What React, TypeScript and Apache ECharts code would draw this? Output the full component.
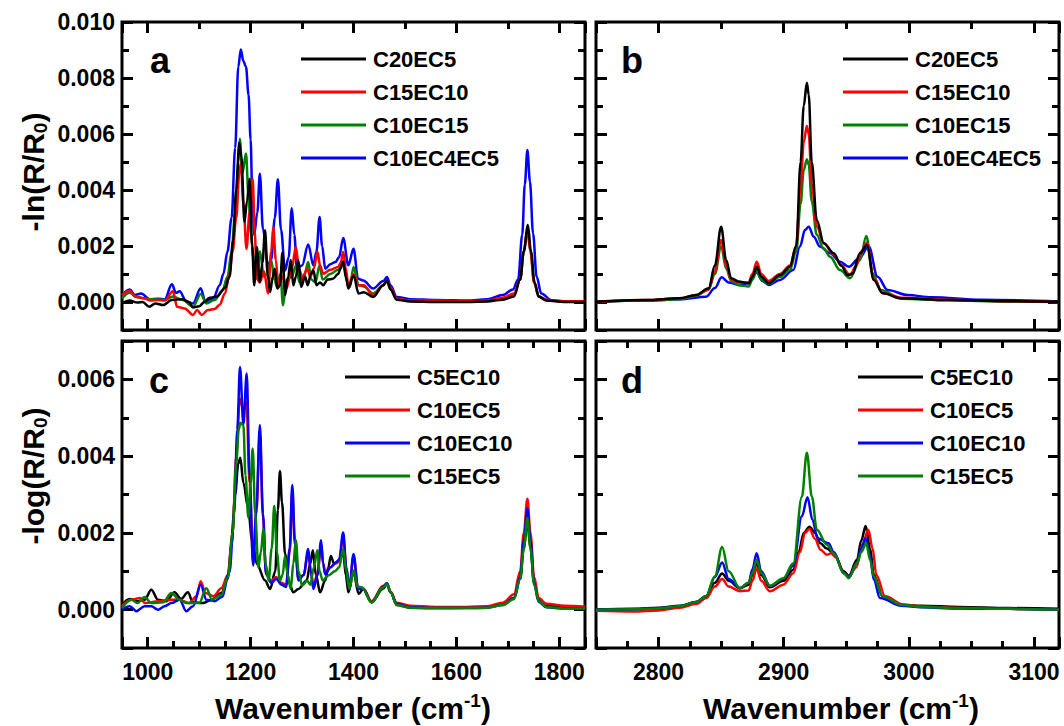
import { useEffect, useRef } from "react";
import * as echarts from "echarts";

const FONT = "'Liberation Sans', Arial, Helvetica, sans-serif";

// ---- Data (intensity values in units of 10^-3) ----
// Panel a: -ln(R/R0), 950-1850 cm-1
const aBlack = [[950,-0.05],[965,0.05],[980,-0.02],[990,0.0],[1003,-0.17],[1015,-0.05],[1030,-0.11],[1047,0.07],[1068,0.1],[1080,0.0],[1088,-0.2],[1100,-0.15],[1110,0.0],[1120,0.15],[1135,0.2],[1150,0.5],[1159,0.9],[1166,2.2],[1172,4.0],[1178,5.69],[1182,5.2],[1188,2.86],[1193,3.6],[1198,4.4],[1203,2.0],[1207,0.6],[1212,1.96],[1218,0.71],[1223,1.4],[1228,2.56],[1233,1.0],[1238,0.36],[1243,0.9],[1247,1.19],[1252,0.48],[1257,0.6],[1262,1.77],[1267,0.25],[1273,0.9],[1278,1.5],[1283,0.6],[1288,0.9],[1293,1.49],[1298,0.54],[1306,0.9],[1311,0.6],[1317,1.0],[1322,1.13],[1328,0.6],[1335,0.7],[1341,0.6],[1350,0.8],[1360,0.83],[1370,1.0],[1375,1.2],[1380,1.45],[1385,0.9],[1390,0.48],[1400,0.95],[1410,0.3],[1420,0.35],[1438,0.18],[1458,0.6],[1465,0.77],[1472,0.45],[1484,0.08],[1510,0.02],[1560,0.0],[1620,0.0],[1660,0.02],[1690,0.08],[1712,0.2],[1724,0.8],[1731,1.8],[1739,2.75],[1745,1.8],[1752,0.7],[1760,0.2],[1775,0.05],[1810,0.0],[1850,0.0]];
const aRed = [[950,0.25],[965,0.4],[975,0.2],[993,0.13],[1005,0.05],[1020,0.07],[1033,0.05],[1049,0.38],[1057,-0.17],[1072,-0.23],[1088,-0.46],[1096,-0.29],[1105,-0.46],[1117,-0.29],[1130,-0.25],[1140,-0.1],[1150,0.3],[1158,0.9],[1165,1.8],[1172,3.0],[1178,4.6],[1181,4.94],[1186,3.5],[1192,1.9],[1198,3.2],[1204,4.4],[1208,2.5],[1212,0.83],[1218,0.7],[1226,1.1],[1234,0.3],[1240,1.8],[1244,2.68],[1249,1.5],[1254,0.6],[1262,0.9],[1270,0.5],[1280,1.2],[1288,1.96],[1294,1.2],[1301,0.83],[1310,1.2],[1316,0.9],[1323,1.2],[1330,1.79],[1335,1.3],[1341,1.01],[1355,1.15],[1370,1.25],[1375,1.4],[1380,1.79],[1385,1.2],[1390,0.6],[1400,1.0],[1410,0.6],[1420,0.6],[1438,0.24],[1458,0.6],[1465,0.77],[1472,0.5],[1484,0.12],[1510,0.05],[1560,0.05],[1620,0.03],[1660,0.05],[1690,0.15],[1712,0.3],[1724,0.8],[1731,1.8],[1738,2.6],[1744,1.8],[1751,0.7],[1760,0.2],[1775,0.08],[1800,0.03],[1850,0.03]];
const aGreen = [[950,0.13],[965,0.33],[980,0.17],[1004,0.1],[1033,0.07],[1049,0.2],[1068,0.07],[1088,-0.17],[1103,0.29],[1114,-0.05],[1130,0.07],[1145,0.4],[1155,0.9],[1163,1.8],[1170,3.2],[1176,5.0],[1179,5.83],[1184,4.6],[1191,5.3],[1196,3.8],[1200,2.5],[1206,1.5],[1212,0.83],[1218,1.8],[1226,0.9],[1232,1.0],[1240,1.5],[1246,0.8],[1252,0.5],[1258,1.0],[1263,-0.12],[1270,0.8],[1280,0.9],[1288,1.3],[1295,0.7],[1305,1.0],[1312,1.43],[1318,0.8],[1326,0.7],[1334,1.3],[1340,0.8],[1355,1.0],[1370,1.15],[1380,1.4],[1388,0.7],[1393,0.55],[1400,1.25],[1410,0.6],[1420,0.55],[1438,0.3],[1458,0.6],[1465,0.75],[1472,0.45],[1484,0.1],[1510,0.04],[1560,0.03],[1620,0.02],[1660,0.04],[1690,0.12],[1712,0.28],[1724,0.8],[1731,1.8],[1738,2.6],[1744,1.8],[1751,0.7],[1760,0.2],[1775,0.06],[1810,0.02],[1850,0.02]];
const aBlue = [[950,0.25],[965,0.45],[975,0.25],[987,0.3],[1004,0.1],[1020,0.12],[1033,0.1],[1047,0.63],[1055,0.33],[1062,0.38],[1075,0.02],[1088,-0.05],[1103,0.49],[1112,0.02],[1127,0.12],[1140,0.6],[1147,1.0],[1155,1.8],[1163,3.0],[1170,5.5],[1176,8.4],[1181,9.02],[1186,8.6],[1191,8.4],[1196,7.4],[1200,5.8],[1203,4.05],[1207,2.4],[1213,3.2],[1218,4.58],[1224,2.6],[1234,1.31],[1240,1.5],[1247,3.0],[1253,4.38],[1259,2.6],[1267,1.13],[1274,1.6],[1280,3.35],[1285,2.4],[1290,1.19],[1300,1.3],[1312,2.05],[1322,1.31],[1328,1.8],[1334,3.04],[1339,2.0],[1345,1.19],[1355,1.35],[1365,1.43],[1372,1.6],[1380,2.29],[1390,1.31],[1400,1.9],[1409,0.83],[1419,0.77],[1438,0.48],[1458,0.75],[1465,0.89],[1472,0.6],[1484,0.18],[1510,0.1],[1560,0.07],[1620,0.05],[1660,0.1],[1690,0.25],[1710,0.45],[1720,0.8],[1728,2.4],[1733,4.2],[1738,5.43],[1743,4.3],[1749,2.45],[1756,0.9],[1765,0.3],[1785,0.06],[1820,0.02],[1850,0.0]];

// Panel b: -ln(R/R0), 2750-3120 cm-1
const bBlack = [[2750,0.01],[2790,0.07],[2817,0.13],[2830,0.25],[2840,0.49],[2845,1.3],[2850,2.69],[2854,1.5],[2858,0.85],[2864,0.73],[2872,0.67],[2875,0.9],[2878.5,1.26],[2882,0.9],[2888,0.67],[2897,0.96],[2905,1.26],[2910,2.0],[2913.5,5.0],[2916,7.0],[2918.5,7.83],[2920,7.4],[2922.4,5.0],[2926.4,2.93],[2932,2.1],[2940,1.74],[2946,1.3],[2951,0.96],[2955,1.02],[2961,1.74],[2966.5,2.04],[2972,0.79],[2979,0.31],[2994,0.13],[3031,0.07],[3080,0.03],[3120,0.01]];
const bRed = [[2750,0.0],[2790,0.07],[2817,0.13],[2830,0.25],[2840,0.45],[2845,1.1],[2850,2.21],[2854,1.3],[2858,0.8],[2864,0.7],[2872,0.7],[2875,1.0],[2878.5,1.44],[2882,1.0],[2888,0.75],[2897,1.0],[2905,1.3],[2910,2.0],[2913.5,4.1],[2916,5.7],[2918.5,6.29],[2920,6.0],[2922.4,4.2],[2926.4,2.7],[2932,2.1],[2940,1.7],[2946,1.3],[2953,0.96],[2958,1.3],[2962,1.8],[2966.5,2.12],[2972,0.85],[2979,0.33],[2994,0.15],[3031,0.08],[3080,0.03],[3120,0.0]];
const bGreen = [[2750,0.0],[2790,0.05],[2817,0.1],[2830,0.22],[2840,0.45],[2845,1.0],[2850,1.98],[2854,1.2],[2858,0.75],[2864,0.6],[2872,0.55],[2875,0.8],[2878.5,1.14],[2882,0.8],[2888,0.65],[2897,0.9],[2905,1.15],[2910,1.8],[2913.5,3.5],[2916,4.7],[2918.5,5.1],[2920,4.9],[2922.4,3.6],[2926.4,2.4],[2932,1.9],[2937,1.62],[2945,1.14],[2953,0.85],[2961,1.5],[2966,2.36],[2971,1.02],[2977.6,0.43],[2994,0.12],[3031,0.06],[3080,0.02],[3120,0.0]];
const bBlue = [[2750,0.0],[2790,0.05],[2817,0.1],[2838,0.19],[2845,0.5],[2850.4,0.88],[2856,0.7],[2864,0.61],[2872,0.67],[2878.5,1.05],[2883,0.75],[2888,0.61],[2897,0.79],[2907.7,1.14],[2913,1.98],[2917,2.57],[2920,2.69],[2924,2.33],[2929,1.98],[2937,1.74],[2945,1.44],[2952,1.26],[2960,1.55],[2968,1.98],[2975,0.9],[2983,0.43],[2999,0.25],[3018,0.17],[3058,0.08],[3120,0.02]];

// Panel c: -log(R/R0), 950-1850 cm-1
const cBlack = [[950,0.13],[965,0.28],[981,0.22],[994,0.26],[1007,0.52],[1020,0.26],[1036,0.22],[1052,0.45],[1065,0.28],[1078,0.45],[1088,0.19],[1107,0.17],[1124,0.26],[1143,0.43],[1155,0.8],[1163,1.7],[1170,3.0],[1176,3.8],[1180,3.96],[1186,3.3],[1195,2.66],[1203,1.8],[1212,1.19],[1228,0.76],[1238,0.54],[1248,1.0],[1253,2.6],[1257,3.61],[1261,2.8],[1267,1.45],[1275,0.7],[1283,0.45],[1293,0.54],[1309,0.76],[1316,1.2],[1321,1.55],[1327,0.9],[1335,0.45],[1345,0.76],[1351,1.1],[1356,1.4],[1362,1.2],[1369,1.25],[1375,1.35],[1380,1.5],[1385,0.9],[1390,0.45],[1400,0.97],[1410,0.41],[1419,0.54],[1435,0.19],[1458,0.55],[1465,0.67],[1472,0.45],[1484,0.12],[1510,0.05],[1560,0.04],[1620,0.05],[1660,0.07],[1690,0.15],[1712,0.3],[1724,0.8],[1731,1.6],[1738,2.3],[1744,1.6],[1751,0.7],[1760,0.25],[1775,0.1],[1810,0.06],[1850,0.05]];
const cRed = [[950,0.09],[968,0.26],[985,0.3],[995,0.17],[1020,0.22],[1046,0.26],[1062,0.26],[1080,0.17],[1095,0.35],[1103,0.74],[1112,0.43],[1128,0.35],[1143,0.56],[1156,0.9],[1165,2.0],[1172,4.0],[1179,5.5],[1186,5.2],[1192,5.4],[1198,3.3],[1205,1.2],[1211,2.5],[1218,4.6],[1224,2.4],[1230,0.95],[1240,0.75],[1250,0.85],[1260,0.7],[1269,0.65],[1276,1.5],[1281,3.1],[1286,1.7],[1293,0.8],[1303,0.9],[1312,1.5],[1317,1.0],[1322,0.6],[1330,0.95],[1337,1.7],[1341,1.2],[1345,0.95],[1355,1.1],[1365,1.2],[1372,1.25],[1380,1.9],[1386,1.1],[1392,0.55],[1400,1.4],[1409,0.55],[1419,0.55],[1435,0.22],[1458,0.62],[1465,0.69],[1472,0.47],[1484,0.18],[1510,0.1],[1560,0.07],[1620,0.07],[1660,0.09],[1690,0.18],[1712,0.4],[1724,1.0],[1731,2.0],[1738,2.89],[1744,2.0],[1751,0.85],[1760,0.3],[1775,0.15],[1810,0.1],[1850,0.08]];
const cBlue = [[950,0.0],[965,0.09],[978,-0.04],[994,0.09],[1007,0.09],[1020,0.0],[1033,0.09],[1046,0.17],[1062,0.26],[1075,-0.04],[1088,0.09],[1103,0.65],[1114,0.26],[1130,0.22],[1144,0.33],[1159,0.98],[1168,2.51],[1174,4.68],[1179.4,6.32],[1186,4.83],[1192.4,6.15],[1198,3.5],[1205,1.15],[1211,2.6],[1218,4.81],[1224,2.5],[1230,0.92],[1240,0.7],[1250,0.8],[1260,0.65],[1269,0.59],[1276,1.6],[1281,3.25],[1286,1.8],[1293,0.76],[1303,0.9],[1312,1.58],[1317,1.0],[1322,0.54],[1330,0.9],[1337,1.81],[1341,1.2],[1345,0.92],[1355,1.1],[1365,1.22],[1372,1.3],[1380,2.01],[1386,1.1],[1392,0.54],[1400,1.45],[1409,0.54],[1419,0.54],[1435,0.19],[1458,0.6],[1465,0.69],[1472,0.45],[1484,0.15],[1510,0.06],[1560,0.04],[1620,0.04],[1660,0.05],[1690,0.12],[1712,0.3],[1724,0.85],[1731,1.8],[1738,2.64],[1744,1.8],[1751,0.7],[1760,0.2],[1775,0.06],[1810,0.03],[1850,0.03]];
const cGreen = [[950,0.04],[968,0.26],[980,0.17],[994,0.33],[1007,0.17],[1030,0.19],[1046,0.43],[1062,0.26],[1075,0.17],[1100,0.17],[1114,0.56],[1125,0.26],[1143,0.39],[1156,0.85],[1165,2.0],[1172,3.8],[1177,4.7],[1180,4.87],[1186,4.8],[1190,3.5],[1195.6,2.4],[1200,3.3],[1204,4.2],[1209,2.5],[1215,1.1],[1220,1.5],[1224.8,2.1],[1229,1.2],[1235,0.76],[1241,1.6],[1246,2.7],[1251,1.5],[1257,0.76],[1262,0.9],[1267,1.4],[1272,0.9],[1278,0.54],[1283,1.2],[1288,1.81],[1293,1.0],[1300,0.63],[1310,0.75],[1316,0.65],[1323,1.1],[1329.8,1.55],[1334,1.0],[1340,0.76],[1351,0.89],[1364,1.0],[1372,1.1],[1380,1.58],[1386,1.0],[1392,0.54],[1400,1.02],[1408,0.6],[1416,0.58],[1435,0.19],[1458,0.58],[1465,0.67],[1472,0.45],[1484,0.12],[1510,0.05],[1560,0.04],[1620,0.04],[1660,0.05],[1690,0.12],[1712,0.28],[1724,0.8],[1731,1.6],[1738,2.38],[1744,1.6],[1751,0.65],[1760,0.22],[1775,0.07],[1810,0.03],[1850,0.03]];

// Panel d: -log(R/R0), 2750-3120 cm-1
const dBlack = [[2750,0.0],[2780,0.02],[2800,0.05],[2817,0.1],[2830,0.2],[2838,0.35],[2845,0.7],[2850.8,0.94],[2856,0.75],[2865,0.56],[2872,0.65],[2875,0.9],[2878.4,1.21],[2882,0.9],[2889,0.58],[2899.7,0.75],[2907.7,1.04],[2912,1.5],[2916,2.0],[2920.6,2.16],[2925,2.0],[2929.4,1.73],[2934,1.6],[2940,1.47],[2948,1.0],[2952,0.88],[2958.6,1.3],[2962,1.8],[2965.5,2.18],[2969,1.6],[2972,0.91],[2979,0.35],[2994,0.13],[3010,0.1],[3040,0.07],[3080,0.04],[3120,0.02]];
const dRed = [[2750,-0.03],[2780,-0.05],[2800,-0.02],[2817,0.05],[2830,0.15],[2838,0.3],[2845,0.6],[2850.8,0.8],[2856,0.6],[2865,0.48],[2872,0.5],[2875,0.75],[2878.4,1.08],[2882,0.75],[2889,0.48],[2899.7,0.65],[2907.7,0.95],[2913,1.5],[2917,2.0],[2920.6,2.1],[2925,1.85],[2929.4,1.56],[2934.5,1.43],[2938,1.47],[2942,1.35],[2948,0.95],[2952,0.87],[2958,1.1],[2963,1.7],[2967.6,2.08],[2971,1.6],[2974,0.91],[2981,0.35],[2996,0.13],[3010,0.08],[3040,0.04],[3080,0.02],[3120,0.0]];
const dBlue = [[2750,0.0],[2780,0.01],[2800,0.03],[2817,0.09],[2830,0.2],[2838,0.35],[2845,0.85],[2850.8,1.23],[2856,0.8],[2865,0.56],[2872,0.7],[2875,1.05],[2878.4,1.47],[2882,1.0],[2889,0.61],[2899.7,0.8],[2907.7,1.15],[2914.5,2.43],[2919,2.93],[2923,2.34],[2927,1.86],[2935.8,1.73],[2940,1.5],[2948,0.95],[2952,0.85],[2958.6,1.21],[2962,1.6],[2965.4,1.86],[2969,1.4],[2972,0.78],[2977,0.3],[2994,0.1],[3010,0.06],[3040,0.03],[3080,0.02],[3120,0.0]];
const dGreen = [[2750,0.0],[2780,0.01],[2800,0.03],[2817,0.09],[2830,0.2],[2838,0.35],[2845,0.87],[2850.8,1.63],[2856,1.0],[2865,0.56],[2872,0.7],[2875,0.95],[2878.4,1.3],[2882,0.95],[2889,0.62],[2899.7,0.82],[2907.7,1.21],[2914.5,2.94],[2918.5,4.09],[2922.5,2.94],[2926.5,2.08],[2934.5,1.69],[2940,1.47],[2948,0.95],[2952,0.82],[2958.6,1.21],[2962,1.5],[2966,1.73],[2969,1.3],[2972,0.87],[2979,0.35],[2994,0.13],[3010,0.07],[3040,0.04],[3080,0.02],[3120,0.0]];

// ---- Series names ----
const namesTop = ["C20EC5", "C15EC10", "C10EC15", "C10EC4EC5"];
const namesBottom = ["C5EC10", "C10EC5", "C10EC10", "C15EC5"];

// ---- Tick labels ----
const lowXMajor = [1000, 1200, 1400, 1600, 1800];
const highXMajor = [2800, 2900, 3000, 3100];
const topYMajor = [0, 0.002, 0.004, 0.006, 0.008, 0.01];
const botYMajor = [0, 0.002, 0.004, 0.006];

const BLACK = "#000000";
const RED = "#ff0000";
const GREEN = "#008000";
const BLUE = "#0000ff";

type Spec = { splitNumber?: number; interval?: number };
type Panel = {
  grid: { left: number; top: number; width: number; height: number };
  xMin: number; xMax: number; xLabels: number[] | null;
  yMin: number; yMax: number; yLabels: number[] | null;
  xMajorSpec: Spec; xMinorSpec: Spec; yMajorSpec: Spec; yMinorSpec: Spec;
  series: { name: string; color: string; data: number[][] }[];
};

const panels: Panel[] = [
  {
    grid: { left: 122, top: 22, width: 463, height: 308 },
    xMin: 950, xMax: 1850, xLabels: null,
    yMin: -0.001, yMax: 0.01, yLabels: topYMajor,
    xMajorSpec: { splitNumber: 5 }, xMinorSpec: { splitNumber: 9 }, yMajorSpec: { splitNumber: 5 }, yMinorSpec: { interval: 0.001 },
    series: [
      { name: namesTop[3], color: BLUE, data: aBlue },
      { name: namesTop[2], color: GREEN, data: aGreen },
      { name: namesTop[1], color: RED, data: aRed },
      { name: namesTop[0], color: BLACK, data: aBlack },
    ],
  },
  {
    grid: { left: 596, top: 22, width: 463, height: 308 },
    xMin: 2750, xMax: 3120, xLabels: null,
    yMin: -0.001, yMax: 0.01, yLabels: null,
    xMajorSpec: { splitNumber: 4 }, xMinorSpec: { interval: 50 }, yMajorSpec: { splitNumber: 5 }, yMinorSpec: { interval: 0.001 },
    series: [
      { name: namesTop[3], color: BLUE, data: bBlue },
      { name: namesTop[2], color: GREEN, data: bGreen },
      { name: namesTop[1], color: RED, data: bRed },
      { name: namesTop[0], color: BLACK, data: bBlack },
    ],
  },
  {
    grid: { left: 122, top: 341, width: 463, height: 307 },
    xMin: 950, xMax: 1850, xLabels: lowXMajor,
    yMin: -0.001, yMax: 0.007, yLabels: botYMajor,
    xMajorSpec: { splitNumber: 5 }, xMinorSpec: { interval: 50 }, yMajorSpec: { splitNumber: 4 }, yMinorSpec: { interval: 0.001 },
    series: [
      { name: namesBottom[0], color: BLACK, data: cBlack },
      { name: namesBottom[1], color: RED, data: cRed },
      { name: namesBottom[2], color: BLUE, data: cBlue },
      { name: namesBottom[3], color: GREEN, data: cGreen },
    ],
  },
  {
    grid: { left: 596, top: 341, width: 463, height: 307 },
    xMin: 2750, xMax: 3120, xLabels: highXMajor,
    yMin: -0.001, yMax: 0.007, yLabels: null,
    xMajorSpec: { splitNumber: 4 }, xMinorSpec: { interval: 25 }, yMajorSpec: { splitNumber: 4 }, yMinorSpec: { interval: 0.001 },
    series: [
      { name: namesBottom[0], color: BLACK, data: dBlack },
      { name: namesBottom[1], color: RED, data: dRed },
      { name: namesBottom[2], color: BLUE, data: dBlue },
      { name: namesBottom[3], color: GREEN, data: dGreen },
    ],
  },
];

const MAJOR_LEN = 11; // px
const MINOR_LEN = 7; // px
const TICK_W = 3;
const labelStyle = { fontSize: 23, fontWeight: "bold" as const, fontFamily: FONT, color: "#000" };

function buildOption() {
  const grid: any[] = [];
  const xAxis: any[] = [];
  const yAxis: any[] = [];
  const series: any[] = [];

  panels.forEach((p, gi) => {
    const { width: W, height: H } = p.grid;
    grid.push({ ...p.grid, show: true, borderColor: "#000", borderWidth: 3, backgroundColor: "rgba(0,0,0,0)", containLabel: false });

    // Inward ticks on both opposite sides: a dashed split line whose only dashes
    // sit at the two ends of the plot (tick, long gap, tick).
    const tickLine = (len: number, span: number) => ({
      show: true,
      lineStyle: { color: "#000", width: TICK_W, type: [len, span - 2 * len, len, 50], dashOffset: 0 },
    });
    const base = { type: "value", gridIndex: gi, axisLine: { show: false, onZero: false }, axisTick: { show: false }, minorTick: { show: false } };

    const xMain = xAxis.length;
    xAxis.push({
      ...base, ...p.xMajorSpec, position: "bottom", min: p.xMin, max: p.xMax,
      splitLine: tickLine(MAJOR_LEN, H),
      axisLabel: p.xLabels
        ? { show: true, customValues: p.xLabels, margin: 12, formatter: (v: number) => String(Math.round(v)), ...labelStyle }
        : { show: false },
    });
    xAxis.push({ ...base, ...p.xMinorSpec, position: "bottom", min: p.xMin, max: p.xMax, splitLine: tickLine(MINOR_LEN, H), axisLabel: { show: false } });

    const yMain = yAxis.length;
    yAxis.push({
      ...base, ...p.yMajorSpec, position: "left", min: p.yMin, max: p.yMax,
      splitLine: tickLine(MAJOR_LEN, W),
      axisLabel: p.yLabels
        ? { show: true, customValues: p.yLabels, margin: 7, formatter: (v: number) => v.toFixed(3), ...labelStyle }
        : { show: false },
    });
    yAxis.push({ ...base, ...p.yMinorSpec, position: "left", min: p.yMin, max: p.yMax, splitLine: tickLine(MINOR_LEN, W), axisLabel: { show: false } });

    p.series.forEach((s) => {
      series.push({
        type: "line",
        name: s.name,
        xAxisIndex: xMain,
        yAxisIndex: yMain,
        data: s.data.map(([x, y]) => [x, y / 1000]),
        showSymbol: false,
        smooth: 0.35,
        smoothMonotone: "x",
        color: s.color,
        itemStyle: { color: s.color },
        lineStyle: { color: s.color, width: 2.5 },
        emphasis: { disabled: true },
      });
    });
  });

  const legendBase = {
    orient: "vertical",
    icon: "rect",
    itemWidth: 65,
    itemHeight: 3,
    itemGap: 11,
    textStyle: { fontSize: 22, fontWeight: "bold", fontFamily: FONT, color: "#000", padding: [0, 0, 0, 2] },
    selectedMode: false,
  };
  const legend = [
    { ...legendBase, data: namesTop, left: 296, top: 43 },
    { ...legendBase, data: namesTop, left: 838, top: 43 },
    { ...legendBase, data: namesBottom, left: 340, top: 361 },
    { ...legendBase, data: namesBottom, left: 853, top: 361 },
  ];

  const letter = (t: string, x: number, y: number) => ({
    type: "text", x, y, silent: true,
    style: { text: t, fill: "#000", fontSize: 36, fontWeight: "bold", fontFamily: FONT, align: "left", textAlign: "left", verticalAlign: "middle", textVerticalAlign: "middle" },
  });
  const titleRich = {
    sub: { fontSize: 19, fontWeight: "bold", fontFamily: FONT, verticalAlign: "bottom", lineHeight: 19 },
    sup: { fontSize: 19, fontWeight: "bold", fontFamily: FONT, verticalAlign: "top", lineHeight: 19 },
  };
  const title = (t: string, x: number, y: number, rot: number) => ({
    type: "text", x, y, rotation: rot, silent: true,
    style: { text: t, fill: "#000", fontSize: 30, fontWeight: "bold", fontFamily: FONT, lineHeight: 34, align: "center", textAlign: "center", verticalAlign: "middle", textVerticalAlign: "middle", rich: titleRich },
  });

  const graphic = [
    letter("a", 150, 60),
    letter("b", 621, 60),
    letter("c", 149, 380),
    letter("d", 621, 380),
    title("-ln(R/R{sub|0})", 33, 172, Math.PI / 2),
    title("-log(R/R{sub|0})", 33, 476, Math.PI / 2),
    title("Wavenumber (cm{sup|-1})", 353, 708, 0),
    title("Wavenumber (cm{sup|-1})", 841, 708, 0),
  ];

  return {
    animation: false,
    backgroundColor: "#ffffff",
    grid,
    xAxis,
    yAxis,
    legend,
    series,
    graphic,
  };
}

export default function App() {
  const ref = useRef<HTMLDivElement>(null);
  useEffect(() => {
    if (!ref.current) return;
    const chart = echarts.init(ref.current, undefined, { renderer: "svg" });
    chart.setOption(buildOption() as any);
    return () => chart.dispose();
  }, []);
  return (
    <div
      ref={ref}
      style={{ position: "fixed", left: 0, top: 0, width: 1064, height: 726, background: "#fff" }}
    />
  );
}
